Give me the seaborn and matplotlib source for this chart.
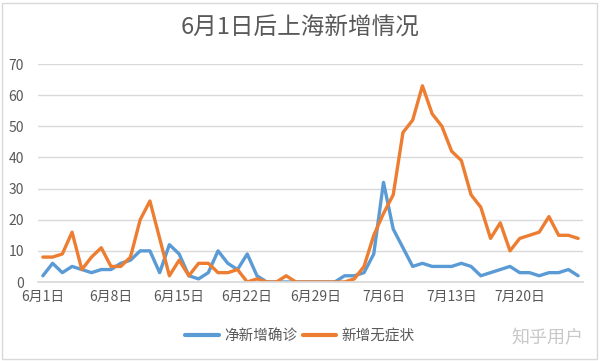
import numpy as np
import pandas as pd
import matplotlib
matplotlib.use("Agg")
import matplotlib.pyplot as plt
import seaborn as sns
from matplotlib.patches import Rectangle

sns.set_theme(style="white")
plt.rcParams['font.family'] = ['Noto Sans CJK SC', 'DejaVu Sans']

# 每日数据: 6月1日 ~ 7月26日
confirmed = [2, 6, 3, 5, 4, 3, 4, 4, 6, 7, 10, 10, 3, 12, 9, 2, 1, 3, 10, 6,
             4, 9, 2, 0, 0, 0, 0, 0, 0, 0, 0, 2, 2, 3, 9, 32, 17, 11, 5, 6,
             5, 5, 5, 6, 5, 2, 3, 4, 5, 3, 3, 2, 3, 3, 4, 2]
asymptomatic = [8, 8, 9, 16, 4, 8, 11, 5, 5, 8, 20, 26, 14, 2, 7, 2, 6, 6, 3, 3,
                4, 0, 1, 0, 0, 2, 0, 0, 0, 0, 0, 0, 1, 5, 15, 22, 28, 48, 52, 63,
                54, 50, 42, 39, 28, 24, 14, 19, 10, 14, 15, 16, 21, 15, 15, 14]
series_names = ["净新增确诊", "新增无症状"]
tick_labels = ["6月1日", "6月8日", "6月15日", "6月22日", "6月29日",
               "7月6日", "7月13日", "7月20日"]
y_ticks = [0, 10, 20, 30, 40, 50, 60, 70]

colors = ["#5B9BD5", "#ED7D31"]
text_color = "#595959"
grid_color = "#d9d9d9"

days = np.arange(len(confirmed))
df = pd.DataFrame({
    "day": np.concatenate([days, days]),
    "value": confirmed + asymptomatic,
    "series": [series_names[0]] * len(days) + [series_names[1]] * len(days),
})

fig = plt.figure(figsize=(6, 3.61), dpi=100)
ax = fig.add_axes([38 / 600, 1 - 282 / 361, 545 / 600, 218 / 361])

sns.lineplot(data=df, x="day", y="value", hue="series", palette=colors,
             linewidth=2.4, ax=ax, legend=False)

ax.set_xlim(-0.5, len(days) - 0.5)
ax.set_ylim(0, 70)
ax.set_yticks(y_ticks)
ax.set_yticklabels([str(v) for v in y_ticks], fontsize=10, color=text_color)
ax.yaxis.grid(True, color=grid_color, linewidth=1)
ax.set_axisbelow(True)

ax.set_xticks(np.arange(0, len(tick_labels) * 7, 7))
ax.set_xticklabels(tick_labels, fontsize=10, color=text_color)
ax.set_xticks(np.arange(-0.5, len(days), 7), minor=True)
ax.tick_params(axis="x", which="major", length=0, pad=6)
ax.tick_params(axis="x", which="minor", length=4, color=grid_color, width=1)
ax.tick_params(axis="y", length=0, pad=10)
ax.set_xlabel("")
ax.set_ylabel("")

for s in ["top", "right", "left"]:
    ax.spines[s].set_visible(False)
ax.spines["bottom"].set_color(grid_color)

fig.text(0.5, 1 - 27 / 361, "6月1日后上海新增情况", ha="center", va="center",
         fontsize=17, color=text_color)

handles = [plt.Line2D([], [], color=c, linewidth=3) for c in colors]
fig.legend(handles, series_names, loc="center", bbox_to_anchor=(0.5, 1 - 336 / 361),
           ncol=2, frameon=False, fontsize=10.5, handlelength=2.3,
           handletextpad=0.35, columnspacing=0.4, labelcolor=text_color)

fig.text(583 / 600, 1 - 338 / 361, "知乎用户", ha="right", va="center",
         fontsize=13, color="#c8c8c8")

fig.patches.append(Rectangle((2 / 600, 2 / 361), 595 / 600, 356 / 361,
                             transform=fig.transFigure, fill=False,
                             edgecolor=grid_color, linewidth=1))

fig.savefig("out.png", dpi=100)
